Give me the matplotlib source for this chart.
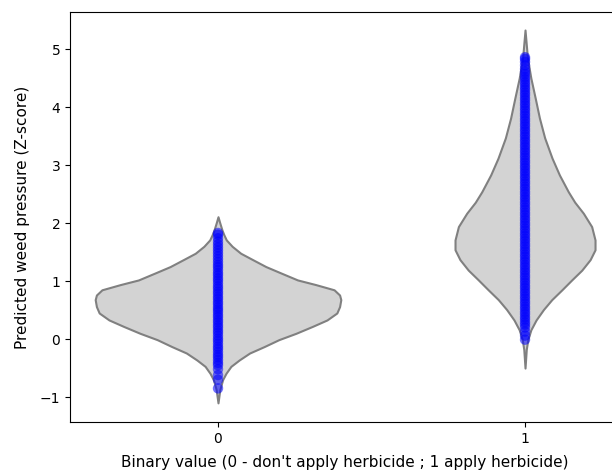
import numpy as np
import matplotlib.pyplot as plt

# categories on the x axis
groups = [0, 1]

# violin outline per group: z-score levels and density half-widths
v0_levels = [-1.10, -0.87, -0.70, -0.59, -0.47, -0.36, -0.24, -0.13, -0.01, 0.10,
             0.22, 0.33, 0.45, 0.56, 0.68, 0.76, 0.85, 0.94, 1.02, 1.14,
             1.25, 1.37, 1.48, 1.60, 1.71, 1.80, 1.88, 2.00, 2.11]
v0_halfwidth = [0.0, 0.006, 0.015, 0.026, 0.042, 0.069, 0.103, 0.150, 0.198, 0.254,
                0.308, 0.355, 0.387, 0.396, 0.400, 0.396, 0.378, 0.318, 0.259, 0.205,
                0.156, 0.113, 0.074, 0.046, 0.027, 0.019, 0.013, 0.006, 0.0]

v1_levels = [-0.50, -0.18, -0.01, 0.16, 0.33, 0.51, 0.68, 0.85, 1.02, 1.19,
             1.37, 1.54, 1.71, 1.94, 2.17, 2.36, 2.54, 2.83, 3.12, 3.47,
             3.81, 4.16, 4.50, 4.84, 5.33]
v1_halfwidth = [0.0, 0.004, 0.009, 0.019, 0.036, 0.060, 0.087, 0.120, 0.152, 0.185,
                0.212, 0.228, 0.228, 0.217, 0.190, 0.162, 0.141, 0.112, 0.088, 0.064,
                0.047, 0.033, 0.019, 0.008, 0.0]

# predicted weed pressure for each observation
pred_0 = [-0.85, -0.70, -0.62, -0.52, -0.45, -0.41, -0.36, -0.31, -0.27, -0.22,
          -0.17, -0.13, -0.08, -0.03, 0.01, 0.06, 0.11, 0.15, 0.20, 0.24,
          0.29, 0.33, 0.38, 0.42, 0.47, 0.51, 0.55, 0.60, 0.64, 0.69,
          0.73, 0.78, 0.82, 0.87, 0.91, 0.96, 1.01, 1.05, 1.10, 1.14,
          1.19, 1.24, 1.28, 1.33, 1.38, 1.43, 1.48, 1.53, 1.58, 1.63,
          1.68, 1.74, 1.80, 1.83]
pred_1 = [-0.01, 0.06, 0.13, 0.20, 0.25, 0.29, 0.34, 0.38, 0.43, 0.47,
          0.52, 0.56, 0.61, 0.65, 0.70, 0.74, 0.79, 0.83, 0.88, 0.92,
          0.97, 1.01, 1.06, 1.10, 1.15, 1.19, 1.24, 1.28, 1.33, 1.37,
          1.42, 1.46, 1.51, 1.55, 1.60, 1.64, 1.69, 1.73, 1.78, 1.82,
          1.87, 1.91, 1.96, 2.00, 2.05, 2.09, 2.14, 2.18, 2.23, 2.27,
          2.32, 2.36, 2.41, 2.45, 2.50, 2.54, 2.59, 2.63, 2.68, 2.72,
          2.77, 2.81, 2.86, 2.90, 2.95, 2.99, 3.04, 3.08, 3.13, 3.17,
          3.22, 3.26, 3.31, 3.35, 3.40, 3.44, 3.49, 3.53, 3.58, 3.62,
          3.67, 3.71, 3.76, 3.80, 3.85, 3.89, 3.94, 3.98, 4.03, 4.07,
          4.12, 4.16, 4.21, 4.25, 4.30, 4.34, 4.39, 4.43, 4.48, 4.52,
          4.57, 4.61, 4.66, 4.72, 4.78, 4.83, 4.86]

y_ticks = [-1, 0, 1, 2, 3, 4, 5]

fig = plt.figure(figsize=(6.12, 4.71), dpi=100)
# the axes run a little past the right edge of the canvas
ax = fig.add_axes([0.1144, 0.104, 0.897, 0.8705])

outlines = [(v0_levels, v0_halfwidth), (v1_levels, v1_halfwidth)]
samples = [pred_0, pred_1]

for pos, (lv, hw), pts in zip(groups, outlines, samples):
    lv = np.asarray(lv)
    hw = np.asarray(hw)
    ax.fill_betweenx(lv, pos - hw, pos + hw, facecolor="lightgray",
                     edgecolor="gray", linewidth=1.5, zorder=1)
    ax.scatter(np.full(len(pts), pos), pts, s=56, color="blue",
               alpha=0.55, edgecolors="none", zorder=3)

ax.set_xlim(-0.482, 1.306)
ax.set_ylim(-1.43, 5.64)
ax.set_xticks(groups)
ax.set_xticklabels([str(g) for g in groups])
ax.set_yticks(y_ticks)
ax.tick_params(labelsize=10)
ax.set_xlabel("Binary value (0 - don't apply herbicide ; 1 apply herbicide)",
              fontsize=11, labelpad=7)
ax.set_ylabel("Predicted weed pressure (Z-score)", fontsize=11, labelpad=7)

fig.savefig("out.png", dpi=100)
